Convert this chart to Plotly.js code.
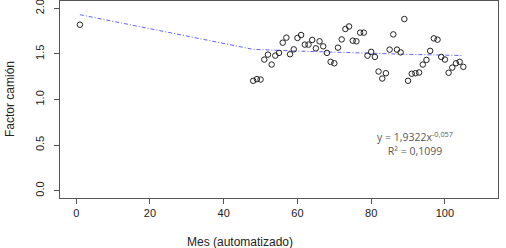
<!DOCTYPE html>
<html>
<head>
<meta charset="utf-8">
<script src="https://cdn.plot.ly/plotly-3.0.1.min.js"></script>
<style>html,body{margin:0;padding:0;background:#fff;}#chart{width:506px;height:248px;}</style>
</head>
<body>
<div id="chart"></div>
<script>
// Monthly observations (month index, truck factor)
const months = [1,48,49,50,51,52,53,54,55,56,57,58,59,60,61,62,63,64,65,66,67,68,69,70,71,72,73,74,75,76,77,78,79,80,81,82,83,84,85,86,87,88,89,90,91,92,93,94,95,96,97,98,99,100,101,102,103,104,105];
const factor = [1.82,1.205,1.223,1.219,1.438,1.492,1.383,1.481,1.511,1.623,1.678,1.496,1.550,1.675,1.707,1.602,1.602,1.653,1.561,1.638,1.583,1.511,1.413,1.397,1.569,1.659,1.773,1.801,1.645,1.638,1.733,1.733,1.481,1.522,1.467,1.307,1.230,1.288,1.547,1.714,1.547,1.517,1.882,1.205,1.282,1.288,1.296,1.383,1.434,1.533,1.670,1.656,1.467,1.438,1.293,1.350,1.397,1.413,1.358];
// Power trend line
const trendX = [1,48,60,70,80,90,105];
const trendY = [1.93,1.55,1.531,1.517,1.505,1.495,1.482];
const xTicks = [0,20,40,60,80,100];
const yTicks = [0,0.5,1,1.5,2];
const xTitle = 'Mes (automatizado)';
const yTitle = 'Factor camión';
const eqLine1 = 'y = 1,9322x<sup>-0,057</sup>';
const eqLine2 = 'R² = 0,1099';

const font = 'Liberation Sans, Arial, sans-serif';
const traces = [
  {x: trendX, y: trendY, type: 'scatter', mode: 'lines',
   line: {color: '#6060ff', width: 1, dash: '4px,2px,1px,2px'}, hoverinfo: 'skip'},
  {x: months, y: factor, type: 'scatter', mode: 'markers',
   marker: {symbol: 'circle-open', size: 5.5, color: '#222', line: {width: 1, color: '#222'}}}
];
const axisCommon = {
  showgrid: false, zeroline: false, showline: true, mirror: true,
  linecolor: '#555', linewidth: 1, ticks: 'outside', ticklen: 5, tickwidth: 1, tickcolor: '#555',
  ticklabeloverflow: 'allow',
  tickfont: {family: font, size: 11, color: '#222'}
};
const layout = {
  width: 506, height: 248,
  margin: {l: 60, r: 8, t: 1, b: 50},
  paper_bgcolor: '#fff', plot_bgcolor: '#fff',
  showlegend: false,
  xaxis: Object.assign({}, axisCommon, {range: [-4.4, 114.4], tickvals: xTicks, ticktext: xTicks.map(String)}),
  yaxis: Object.assign({}, axisCommon, {range: [-0.08, 2.08], tickvals: yTicks, ticktext: yTicks.map(v => v.toFixed(1)), tickangle: -90, ticklabelstandoff: 6}),
  annotations: [
    {text: xTitle, xref: 'paper', yref: 'paper', x: (240-60)/438, y: -(241.7-198)/197, xanchor: 'center', yanchor: 'middle', showarrow: false, font: {family: font, size: 12, color: '#222'}},
    {text: yTitle, xref: 'paper', yref: 'paper', x: -(60-9.5)/438, y: 0.5, xanchor: 'center', yanchor: 'middle', textangle: -90, showarrow: false, font: {family: font, size: 12, color: '#222'}},
    {text: eqLine1 + '<br>' + eqLine2, xref: 'paper', yref: 'paper', x: (415-60)/438, y: 1-(143-1)/197, xanchor: 'center', yanchor: 'middle', align: 'center', showarrow: false, font: {family: 'Open Sans, Carlito, sans-serif', size: 10.5, color: '#595959'}}
  ]
};
Plotly.newPlot('chart', traces, layout, {displayModeBar: false, staticPlot: true});
</script>
</body>
</html>
